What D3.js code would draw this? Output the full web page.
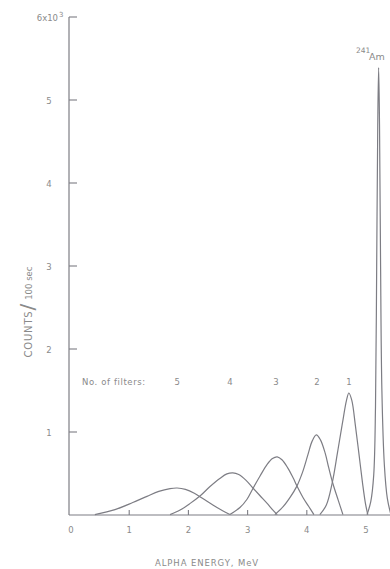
<!DOCTYPE html>
<html>
<head>
<meta charset="utf-8">
<script src="https://cdn.jsdelivr.net/npm/d3@7"></script>
<style>
  html, body { margin: 0; padding: 0; background: #fff; }
  svg { display: block; }
  text { font-family: "DejaVu Sans", "Liberation Sans", sans-serif; fill: #8a8a8a; }
</style>
</head>
<body>
<svg id="chart" width="390" height="569"></svg>
<script>
// Alpha spectra of 241Am after 1..5 absorber filters, plus the unfiltered peak.
// Each series: [energy (MeV), counts per 100 sec]
const filters5 = [[0.42,5],[0.76,65],[1.06,150],[1.30,225],[1.50,285],[1.69,318],[1.81,325],[1.95,308],[2.10,262],[2.25,195],[2.42,118],[2.57,55],[2.70,5]];
const filters4 = [[1.69,5],[1.86,60],[2.03,140],[2.20,232],[2.36,340],[2.53,440],[2.65,495],[2.75,508],[2.85,488],[2.97,420],[3.09,325],[3.21,232],[3.33,140],[3.42,65],[3.50,5]];
const filters3 = [[2.70,5],[2.87,90],[2.99,190],[3.09,320],[3.21,470],[3.33,610],[3.42,680],[3.50,700],[3.58,665],[3.68,565],[3.77,445],[3.84,340],[3.94,205],[4.03,105],[4.12,5]];
const filters2 = [[3.46,5],[3.60,100],[3.72,215],[3.83,345],[3.93,520],[4.02,730],[4.09,890],[4.16,965],[4.23,905],[4.31,745],[4.37,570],[4.44,380],[4.53,180],[4.61,5]];
const filters1 = [[4.22,5],[4.33,120],[4.43,390],[4.52,760],[4.60,1100],[4.67,1380],[4.71,1470],[4.76,1380],[4.82,1080],[4.88,740],[4.94,390],[4.99,140],[5.03,5]];
const am241 = [[5.017,5],[5.080,160],[5.130,480],[5.160,1300],[5.180,3000],[5.198,4700],[5.213,5390],[5.228,4700],[5.245,3100],[5.268,1500],[5.310,600],[5.360,200],[5.420,5]];

const seriesList = [filters5, filters4, filters3, filters2, filters1, am241];

// Axis ticks and annotations
const xTickLabels = [0, 1, 2, 3, 4, 5];
const xTickMarks = [1, 2, 3, 4];
const yTickValues = [1000, 2000, 3000, 4000, 5000, 6000];
const yTickLabels = ["1", "2", "3", "4", "5", "6x10"];
const filterLabels = [
  { n: "5", e: 1.81 },
  { n: "4", e: 2.70 },
  { n: "3", e: 3.48 },
  { n: "2", e: 4.17 },
  { n: "1", e: 4.71 }
];

const svg = d3.select("#chart");
const x = d3.scaleLinear().domain([0, 5.405]).range([70, 390]);
const y = d3.scaleLinear().domain([0, 6000]).range([515, 17]);

const ink = "#7d7d84";

// Axes frame
svg.append("line").attr("x1", x(0) - 1).attr("x2", x(0) - 1)
  .attr("y1", y(6000)).attr("y2", y(0))
  .attr("stroke", ink).attr("stroke-width", 1.2);
svg.append("line").attr("x1", x(0) - 1).attr("x2", 390)
  .attr("y1", y(0)).attr("y2", y(0))
  .attr("stroke", ink).attr("stroke-width", 1.2);

// Y ticks (pointing inward)
svg.selectAll(".ytick").data(yTickValues).enter().append("line")
  .attr("x1", x(0) - 1).attr("x2", x(0) + 7)
  .attr("y1", d => y(d)).attr("y2", d => y(d))
  .attr("stroke", ink).attr("stroke-width", 1.1);

svg.selectAll(".ylab").data(yTickValues.slice(0, 5)).enter().append("text")
  .attr("x", 49).attr("y", d => y(d) + 3.5)
  .attr("text-anchor", "middle").attr("font-size", 8.5)
  .text((d, i) => yTickLabels[i]);

svg.append("text")
  .attr("x", 58).attr("y", y(6000) + 4)
  .attr("text-anchor", "end").attr("font-size", 8.5)
  .text(yTickLabels[5]);
svg.append("text").attr("x", 59).attr("y", y(6000) - 0.5)
  .attr("font-size", 7).text("3");

// X ticks (pointing inward) and labels
svg.selectAll(".xtick").data(xTickMarks).enter().append("line")
  .attr("x1", d => x(d)).attr("x2", d => x(d))
  .attr("y1", y(0)).attr("y2", y(0) - 5)
  .attr("stroke", ink).attr("stroke-width", 1.1);

svg.selectAll(".xlab").data(xTickLabels).enter().append("text")
  .attr("x", d => x(d) + (d === 0 ? 1 : 0)).attr("y", 533)
  .attr("text-anchor", "middle").attr("font-size", 8.5)
  .text(d => d);

// Axis titles
svg.append("text")
  .attr("x", 207).attr("y", 566)
  .attr("text-anchor", "middle").attr("font-size", 8.5)
  .attr("letter-spacing", 0.9)
  .text("ALPHA  ENERGY, MeV");

const yTitle = svg.append("text")
  .attr("transform", "translate(32,312) rotate(-90)")
  .attr("text-anchor", "middle");
yTitle.append("tspan").attr("font-size", 10).attr("letter-spacing", 0.8).text("COUNTS");
yTitle.append("tspan").attr("font-size", 20).attr("dy", 2).text("/");
yTitle.append("tspan").attr("font-size", 8.5).attr("dy", -2).attr("dx", 4).text("100 sec");

// Spectra
const line = d3.line()
  .x(d => x(d[0]))
  .y(d => y(d[1]))
  .curve(d3.curveCatmullRom.alpha(0.5));

svg.selectAll(".spectrum").data(seriesList).enter().append("path")
  .attr("d", line)
  .attr("fill", "none")
  .attr("stroke", ink)
  .attr("stroke-width", 1.2)
  .attr("stroke-linejoin", "round");

// Filter count annotations
svg.append("text").attr("x", 82).attr("y", 385)
  .attr("font-size", 8.5).attr("letter-spacing", 0.6)
  .text("No. of filters:");
svg.selectAll(".flab").data(filterLabels).enter().append("text")
  .attr("x", d => x(d.e)).attr("y", 385)
  .attr("text-anchor", "middle").attr("font-size", 8.5)
  .text(d => d.n);

// Isotope label above the main peak
svg.append("text").attr("x", 356).attr("y", 53).attr("font-size", 7.5).text("241");
svg.append("text").attr("x", 369).attr("y", 60).attr("font-size", 9.5).text("Am");
</script>
</body>
</html>
